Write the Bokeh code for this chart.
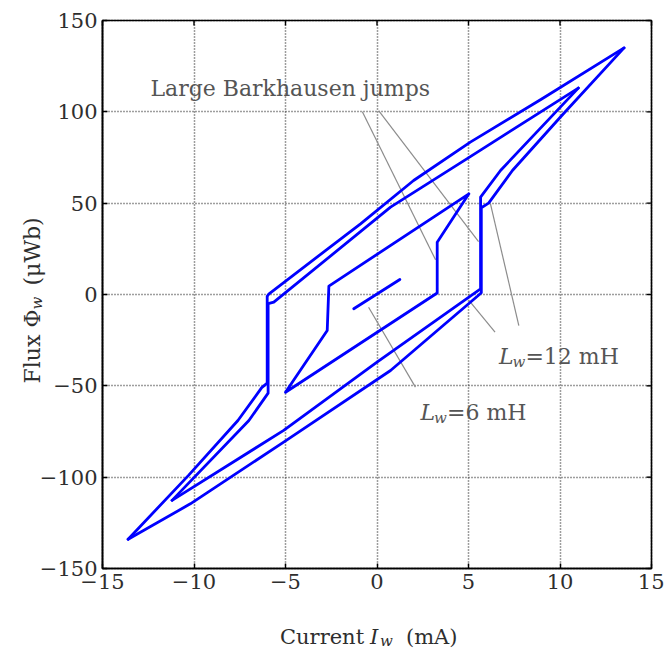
import math
from bokeh.plotting import figure
from bokeh.models import Label, FixedTicker, Range1d, Grid
from bokeh.embed import file_html
from bokeh.resources import INLINE

# ---------------- data ----------------
x_ticks = [-15, -10, -5, 0, 5, 10, 15]
y_ticks = [-150, -100, -50, 0, 50, 100, 150]
x_tick_labels = ["\u221215", "\u221210", "\u22125", "0", "5", "10", "15"]
y_tick_labels = ["\u2212150", "\u2212100", "\u221250", "0", "50", "100", "150"]

# loop A (largest excursion)
loopA_desc_x = [13.5, 9.0, 5.1, 2.0, -0.9, -5.9, -6.0, -6.0, -6.3, -7.6, -10.3, -13.6]
loopA_desc_y = [135, 107, 83.4, 62.4, 38.7, 0.4, -1.0, -48.5, -51.0, -69.0, -99.0, -134]
loopA_asc_x = [-13.6, -10.2, -5.1, 0.74, 5.5, 5.7, 5.7, 6.1, 7.4, 10.1, 13.5]
loopA_asc_y = [-134, -114.6, -80.8, -41.6, -0.8, 1.0, 47.5, 50.0, 67.9, 98.0, 135]

# loop B (second excursion)
loopB_desc_x = [11.0, 5.1, 0.74, -5.64, -5.95, -5.95, -7.0, -11.2]
loopB_desc_y = [113, 75.5, 47.8, -4.2, -5.0, -54.0, -69.0, -112.7]
loopB_asc_x = [-11.2, -5.1, 0.0, 5.66, 5.66, 6.75, 11.0]
loopB_asc_y = [-112.7, -74.4, -37.0, 3.1, 53.3, 67.9, 113]

# loop C (minor loop)
loopC_x = [5.02, -2.63, -2.72, -5.0, 3.29, 3.29, 5.02]
loopC_y = [55.1, 4.6, -19.7, -53.5, 0.8, 28.6, 55.1]

# smallest excursion
loopD_x = [-1.27, 1.25]
loopD_y = [-7.8, 8.2]

# annotation leader lines (start / end)
lead_x0 = [-0.8, 0.1, 6.2, 5.0, -0.46]
lead_y0 = [100.0, 100.5, 49.6, -3.0, -7.0]
lead_x1 = [3.2, 5.55, 7.75, 6.45, 2.1]
lead_y1 = [19.0, 29.0, -17.0, -20.6, -50.7]

# ---------------- layout geometry (pixels) ----------------
W, H = 664, 654
BOX_L, BOX_R, BOX_T, BOX_B = 102, 651, 20, 568
x0, x1 = x_ticks[0], x_ticks[-1]
y0, y1 = y_ticks[0], y_ticks[-1]
sx = (BOX_R - BOX_L) / (x1 - x0)
sy = (BOX_B - BOX_T) / (y1 - y0)

FONT = "DejaVu Serif"
TXT = "#2e2e2e"
ANN = "#555555"

p = figure(width=W, height=H,
           x_range=Range1d(x0 - BOX_L / sx, x1 + (W - BOX_R) / sx),
           y_range=Range1d(y0 - (H - BOX_B) / sy, y1 + BOX_T / sy),
           output_backend="svg", toolbar_location=None,
           min_border_left=0, min_border_right=0,
           min_border_top=0, min_border_bottom=0)
p.background_fill_color = "white"
p.border_fill_color = "white"
p.outline_line_color = None

xt = FixedTicker(ticks=x_ticks)
yt = FixedTicker(ticks=y_ticks)

for ax, ticker, labels, loc, bnds in ((p.xaxis[0], xt, x_tick_labels, y0, (x0, x1)),
                                      (p.yaxis[0], yt, y_tick_labels, x0, (y0, y1))):
    ax.ticker = ticker
    ax.fixed_location = loc
    ax.bounds = bnds
    ax.axis_line_color = "black"
    ax.axis_line_width = 1.6
    ax.major_tick_in = 5
    ax.major_tick_out = 0
    ax.major_tick_line_color = "black"
    ax.major_tick_line_width = 1.4
    ax.minor_tick_line_color = None
    ax.major_label_overrides = {t: l for t, l in zip(ticker.ticks, labels)}
    ax.major_label_text_font = FONT
    ax.major_label_text_font_size = "21px"
    ax.major_label_text_color = TXT
p.xaxis[0].major_label_standoff = 5
p.yaxis[0].major_label_standoff = 5

GRID_COLOR = "#3c3c3c"
has_cross = "cross_bounds" in Grid.properties()
p.xgrid[0].ticker = xt
p.ygrid[0].ticker = yt
if has_cross:
    p.xgrid[0].bounds = (x0, x1)
    p.xgrid[0].cross_bounds = (y0, y1)
    p.ygrid[0].bounds = (y0, y1)
    p.ygrid[0].cross_bounds = (x0, x1)
    for g in (p.xgrid[0], p.ygrid[0]):
        g.grid_line_color = GRID_COLOR
        g.grid_line_width = 1.5
        g.grid_line_dash = "1 2"
else:
    p.xgrid[0].visible = False
    p.ygrid[0].visible = False
    p.segment(x0=x_ticks, y0=[y0] * len(x_ticks), x1=x_ticks, y1=[y1] * len(x_ticks),
              line_color=GRID_COLOR, line_width=1.5, line_dash="1 2", level="underlay")
    p.segment(x0=[x0] * len(y_ticks), y0=y_ticks, x1=[x1] * len(y_ticks), y1=y_ticks,
              line_color=GRID_COLOR, line_width=1.5, line_dash="1 2", level="underlay")

# inward tick marks on the top and right edges of the box
p.ray(x=x_ticks, y=[y1] * len(x_ticks), length=5, length_units="screen",
      angle=-math.pi / 2, line_color="black", line_width=1.4)
p.ray(x=[x1] * len(y_ticks), y=y_ticks, length=5, length_units="screen",
      angle=math.pi, line_color="black", line_width=1.4)

# leader lines
p.segment(x0=lead_x0, y0=lead_y0, x1=lead_x1, y1=lead_y1,
          line_color="#8c8c8c", line_width=1.2)

BLUE = "#0000ff"
LW = 2.8
for xs, ys in ((loopA_desc_x, loopA_desc_y), (loopA_asc_x, loopA_asc_y),
               (loopB_desc_x, loopB_desc_y), (loopB_asc_x, loopB_asc_y),
               (loopC_x, loopC_y), (loopD_x, loopD_y)):
    p.line(xs, ys, line_color=BLUE, line_width=LW, line_join="round", line_cap="round")

# box outline (top / right edges; left / bottom are the axis lines)
p.quad(left=x0, right=x1, bottom=y0, top=y1, fill_color=None,
       line_color="black", line_width=1.6)

def lab(x, y, text, size, dx=0, dy=0, italic=False, angle=0.0, color=TXT):
    p.add_layout(Label(x=x, y=y, x_offset=dx, y_offset=dy, text=text,
                       text_font=FONT, text_font_size=size,
                       text_font_style="italic" if italic else "normal",
                       text_color=color, text_baseline="alphabetic",
                       text_align="left", angle=angle))

# annotation texts
lab(-12.38, 112.8, "Large Barkhausen jumps", "22px", color=ANN)
lab(6.66, -34.0, "L", "22px", italic=True, color=ANN)
lab(6.66, -34.0, "w", "15px", dx=13.5, dy=-5, italic=True, color=ANN)
lab(6.66, -34.0, "=12 mH", "22px", dx=26.5, color=ANN)
lab(2.38, -64.6, "L", "22px", italic=True, color=ANN)
lab(2.38, -64.6, "w", "15px", dx=13.5, dy=-5, italic=True, color=ANN)
lab(2.38, -64.6, "=6 mH", "22px", dx=26.5, color=ANN)

# x-axis title (composed for the subscript)
xl_x, xl_y = -5.3, -187.6
lab(xl_x, xl_y, "Current", "21px")
lab(xl_x, xl_y, "I", "21px", dx=90, italic=True)
lab(xl_x, xl_y, "w", "15px", dx=100, dy=-4, italic=True)
lab(xl_x, xl_y, "(mA)", "21px", dx=126)

# y-axis title (rotated, composed)
yl_x, yl_y = -18.83, -48.7
R = math.pi / 2
lab(yl_x, yl_y, "Flux", "22px", angle=R)
lab(yl_x, yl_y, "\u03a6", "22px", dy=56, angle=R)
lab(yl_x, yl_y, "w", "15px", dx=5, dy=74, italic=True, angle=R)
lab(yl_x, yl_y, "(\u03bcWb)", "22px", dy=98, angle=R)

open("out.html", "w").write(file_html(p, INLINE))
